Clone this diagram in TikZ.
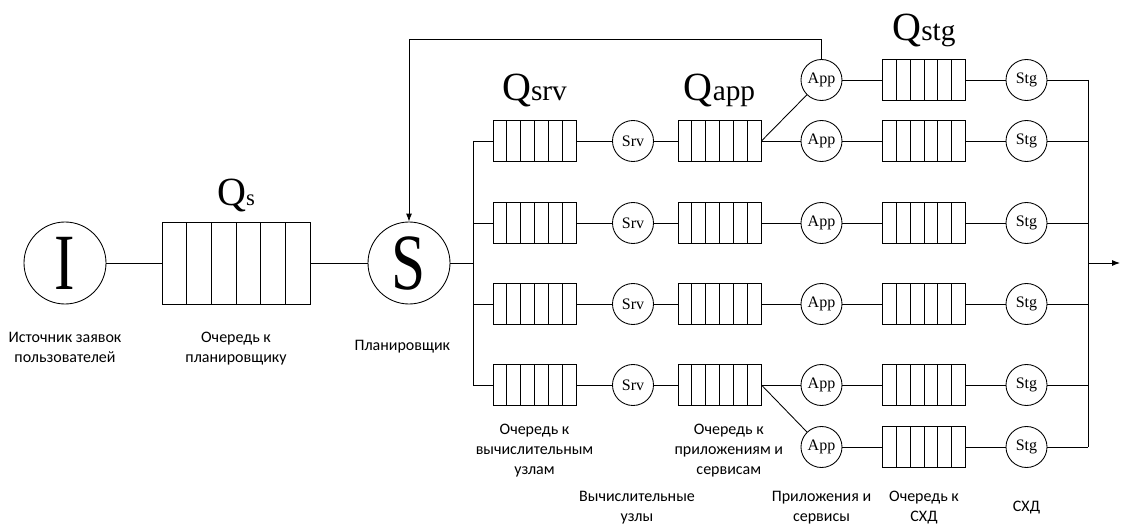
\documentclass[tikz,border=0pt]{standalone}
\usepackage{fontspec}
\setmainfont{Liberation Serif}
\newfontfamily\lblfont{Carlito}
\usepackage{graphicx}
\usetikzlibrary{arrows.meta,positioning,calc}
\tikzset{
    bigserver/.style={circle, draw, minimum size=61.5pt, inner sep=0pt},
    server/.style={circle, draw, minimum size=30.75pt, inner sep=0pt, font=\fontsize{12}{12}\selectfont},
    queue/.style={rectangle, draw, minimum width=62.25pt, minimum height=30.75pt, inner sep=0pt,
        path picture={\foreach \k in {1,...,5}
            \draw ($(path picture bounding box.south west)!\k/6!(path picture bounding box.south east)$) -- ($(path picture bounding box.north west)!\k/6!(path picture bounding box.north east)$);}},
    bigqueue/.style={queue, minimum width=111pt, minimum height=61.5pt},
    qlabel/.style={anchor=base, inner sep=0pt, font=\fontsize{30}{30}\selectfont},
    caption/.style={align=center, font=\lblfont\fontsize{12}{15}\selectfont},
    line/.style={draw, -{Latex[length=6pt, width=4.5pt]}}
}
\newcommand{\bigletter}[1]{\scalebox{1}[1.3]{\fontsize{46}{46}\selectfont #1}}
\newcommand{\qsub}[2]{Q{\fontsize{#1}{#1}\selectfont #2}}

\begin{document}
\begin{tikzpicture}[x=0.75pt, y=0.75pt, line width=0.65pt]
    \useasboundingbox (-65,-262) rectangle (1056,263);

    % Source, scheduler queue and scheduler
    \node [bigserver] (I) at (0,0) {\bigletter{I}};
    \node [bigqueue] (Qs) at ([shift={(171,0)}]I) {};
    \node [bigserver] (S) at ([shift={(344,0)}]I) {\bigletter{S}};
    \node [qlabel] at ([shift={(0,16)}]Qs.north) {\qsub{17}{s}};

    % Compute node chains
    \foreach \r/\yy in {1/122,2/40,3/-41,4/-122} {
        \node [queue] (qsrv\r) at (469.5,\yy) {};
        \node [server] (srv\r) at (568,\yy) {Srv};
        \node [queue] (qapp\r) at (654.5,\yy) {};
    }

    % Application and storage chains
    \foreach \r/\yy in {0/183,1/122,2/40,3/-41,4/-122,5/-184} {
        \node [server] (app\r) at (756.5,\yy) {App};
        \node [queue] (qstg\r) at (859,\yy) {};
        \node [server] (stg\r) at (961.5,\yy) {Stg};
    }

    % Queue names
    \node [qlabel] at ([shift={(0,20)}]qsrv1.north) {\qsub{22}{srv}};
    \node [qlabel] at ([shift={(0,20)}]qapp1.north) {\qsub{22}{app}};
    \node [qlabel] at ([shift={(0,19)}]qstg0.north) {\qsub{22}{stg}};

    % Connections
    \draw (I) -- (Qs) -- (S);
    \coordinate (split) at ([shift={(408,0)}]I);
    \draw (S) -- (split);
    \draw (qsrv1.west -| split) -- (qsrv4.west -| split);
    \foreach \r in {1,...,4} {
        \draw (qsrv\r.west -| split) -- (qsrv\r) -- (srv\r) -- (qapp\r) -- (app\r);
    }
    \draw (qapp1.east) -- (app0);
    \draw (qapp4.east) -- (app5);
    \coordinate (join) at ([shift={(1023,0)}]I);
    \foreach \r in {0,...,5} {
        \draw (app\r) -- (qstg\r) -- (stg\r) -- (stg\r -| join);
    }
    \draw (stg0 -| join) -- (stg5 -| join);
    \coordinate (out) at ([shift={(1055,0)}]I);
    \path [line] (join) -- (out);

    % Feedback to the scheduler
    \path [line] (app0.north) -- ++(0,20) -| (S.north);

    % Captions
    \node [caption, below=17pt of I] (lI) {Источник заявок\\пользователей};
    \node [caption, below=17pt of Qs] (lQs) {Очередь к\\планировщику};
    \node [caption, xshift=-5pt] (lS) at (S |- lI) {Планировщик};
    \node [caption, below=10pt of qsrv4] (lqsrv) {Очередь к\\вычислительным\\узлам};
    \node [caption, below=10pt of qapp4, xshift=7pt] (lqapp) {Очередь к\\приложениям и\\сервисам};
    \node [caption, below=14pt of app5] (lapp) {Приложения и\\сервисы};
    \node [caption, anchor=north, xshift=3pt] (lsrv) at (srv4 |- lapp.north) {Вычислительные\\узлы};
    \node [caption, anchor=north] (lqstg) at (qstg5 |- lapp.north) {Очередь к\\СХД};
    \node [caption] (lstg) at (stg5 |- lapp) {СХД};
\end{tikzpicture}
\end{document}
